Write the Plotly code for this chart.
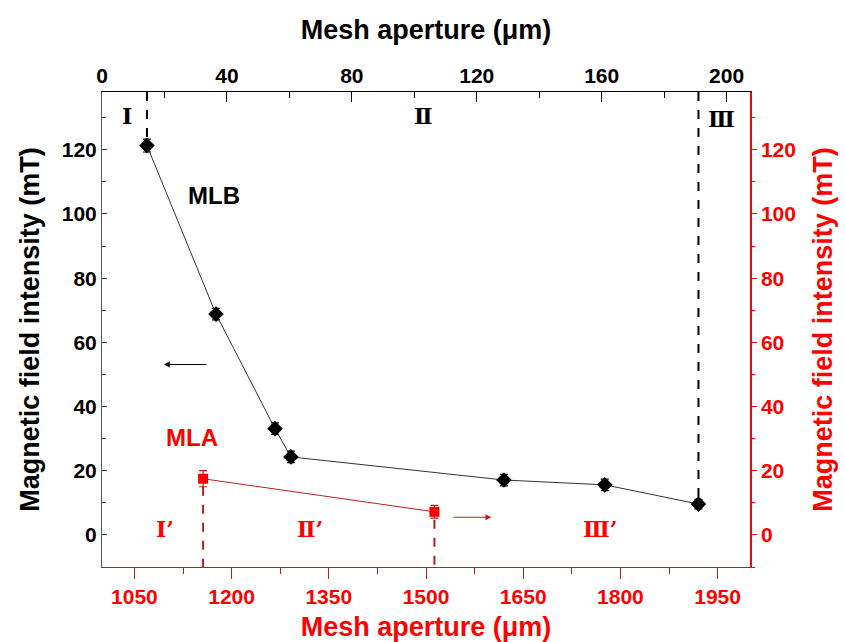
import plotly.graph_objects as go

# MLB (black) : top axis (Mesh aperture, µm) vs left axis (mT)
mlb_x = [14.4, 36.5, 55.4, 60.5, 128.7, 161.0, 191.0]
mlb_y = [121.3, 68.8, 33.1, 24.3, 17.1, 15.6, 9.6]
mlb_err = [2.0, 1.8, 1.8, 1.8, 1.8, 1.8, 1.5]

# MLA (red) : bottom axis (Mesh aperture, µm) vs right axis (mT)
mla_x = [1156, 1513]
mla_y = [17.5, 7.2]
mla_err = [2.5, 2.0]

y_min, y_max = -10, 138
top_range = [0, 207.5]
bottom_range = [1000, 2000]

black = "#000000"
red = "#ff0000"
dark_red = "#b22222"

fig = go.Figure()

# region boundary dashed lines (black, top axis)
for xv, yv in [(mlb_x[0], mlb_y[0]), (mlb_x[-1], mlb_y[-1])]:
    fig.add_trace(go.Scatter(x=[xv, xv], y=[y_max, yv + 2], xaxis="x", yaxis="y",
                             mode="lines", line=dict(color=black, width=2, dash="dash"),
                             showlegend=False, hoverinfo="skip"))
fig.add_trace(go.Scatter(x=mlb_x, y=mlb_y, xaxis="x", yaxis="y", mode="lines+markers",
                         line=dict(color="#333333", width=1),
                         marker=dict(symbol="diamond", size=12, color=black),
                         error_y=dict(type="data", array=mlb_err, color=black, thickness=1.2, width=4),
                         showlegend=False))

# region boundary dashed lines (red, bottom axis)
for xv, yv in zip(mla_x, mla_y):
    fig.add_trace(go.Scatter(x=[xv, xv], y=[yv - 2.5, y_min], xaxis="x2", yaxis="y2",
                             mode="lines", line=dict(color=dark_red, width=2, dash="dash"),
                             showlegend=False, hoverinfo="skip"))
fig.add_trace(go.Scatter(x=mla_x, y=mla_y, xaxis="x2", yaxis="y2", mode="lines+markers",
                         line=dict(color=dark_red, width=1),
                         marker=dict(symbol="square", size=10, color=red),
                         error_y=dict(type="data", array=mla_err, color=dark_red, thickness=1.2, width=4),
                         showlegend=False))

tick_font = dict(family="Liberation Sans, Arial", size=21, weight="bold")
title_font = dict(family="Liberation Sans, Arial", size=27, weight="bold")

fig.update_layout(
    width=845, height=642,
    margin=dict(l=102, r=95, t=92, b=75),
    paper_bgcolor="white", plot_bgcolor="white",
    # top axis (black data)
    xaxis=dict(range=top_range, side="top", anchor="y", dtick=40, tick0=0, automargin=False,
               ticks="inside", ticklen=10, tickwidth=1, tickcolor=black,
               minor=dict(dtick=20, ticks="inside", ticklen=6, tickcolor=black),
               showline=True, linecolor=black, linewidth=1, showgrid=False, zeroline=False,
               tickfont=dict(color=black, **tick_font),
               title=dict(text="Mesh aperture (μm)", font=dict(color=black, **title_font), standoff=16)),
    # bottom axis (red data)
    xaxis2=dict(range=bottom_range, side="bottom", overlaying="x", anchor="y2", dtick=150, tick0=1050,
                automargin=False,
                ticks="outside", ticklen=11, tickwidth=1, tickcolor=dark_red,
                minor=dict(dtick=75, ticks="outside", ticklen=6, tickcolor=dark_red),
                showline=True, linecolor=dark_red, linewidth=1, showgrid=False, zeroline=False,
                tickfont=dict(color=red, **tick_font),
                title=dict(text="Mesh aperture (μm)", font=dict(color=red, **title_font), standoff=10)),
    yaxis=dict(range=[y_min, y_max], dtick=20, tick0=0, side="left", anchor="x", automargin=False,
               ticks="inside", ticklen=5, tickwidth=1, tickcolor="#444444",
               minor=dict(dtick=10, ticks="inside", ticklen=4, tickcolor="#444444"),
               showline=True, linecolor="#555555", linewidth=1, showgrid=False, zeroline=False,
               tickfont=dict(color=black, **tick_font),
               title=dict(text="Magnetic field intensity (mT)", font=dict(color=black, **title_font), standoff=14)),
    yaxis2=dict(range=[y_min, y_max], dtick=20, tick0=0, side="right", overlaying="y", anchor="x2",
                automargin=False,
                ticks="outside", ticklen=5, tickwidth=1, tickcolor=red,
                minor=dict(dtick=10, ticks="outside", ticklen=3, tickcolor=red),
                showline=True, linecolor=red, linewidth=1.5, showgrid=False, zeroline=False,
                tickfont=dict(color=red, **tick_font),
                title=dict(text="Magnetic field intensity (mT)", font=dict(color=red, **title_font), standoff=18)),
)

roman_font = dict(family="DejaVu Serif", size=22, weight="bold")
label_font = dict(family="Liberation Sans, Arial", size=24, weight="bold")

black_texts = [("Ⅰ", 8.0, 130.4), ("Ⅱ", 102.8, 130.4), ("Ⅲ", 198.5, 129.5)]
for t, xv, yv in black_texts:
    fig.add_annotation(x=xv, y=yv, xref="x", yref="y", text=t, showarrow=False,
                       font=dict(color=black, **roman_font))
fig.add_annotation(x=35.9, y=105.6, xref="x", yref="y", text="MLB", showarrow=False,
                   font=dict(color=black, **label_font))
fig.add_annotation(x=28.8, y=30.3, xref="x", yref="y", text="MLA", showarrow=False,
                   font=dict(color=red, **label_font))

red_texts = [("Ⅰ’", 1097, 1.8), ("Ⅱ’", 1321, 1.8), ("Ⅲ’", 1768, 1.8)]
for t, xv, yv in red_texts:
    fig.add_annotation(x=xv, y=yv, xref="x2", yref="y2", text=t, showarrow=False,
                       font=dict(color=red, **roman_font))

# arrows indicating axis ownership
fig.add_annotation(x=19.8, y=53.1, ax=33.9, ay=53.1, xref="x", yref="y", axref="x", ayref="y",
                   text="", showarrow=True, arrowhead=2, arrowsize=1, arrowwidth=1.2, arrowcolor=black)
fig.add_annotation(x=1601, y=5.5, ax=1540, ay=5.5, xref="x2", yref="y2", axref="x2", ayref="y2",
                   text="", showarrow=True, arrowhead=2, arrowsize=1, arrowwidth=1.2, arrowcolor=dark_red)

fig.write_html("out.html")
